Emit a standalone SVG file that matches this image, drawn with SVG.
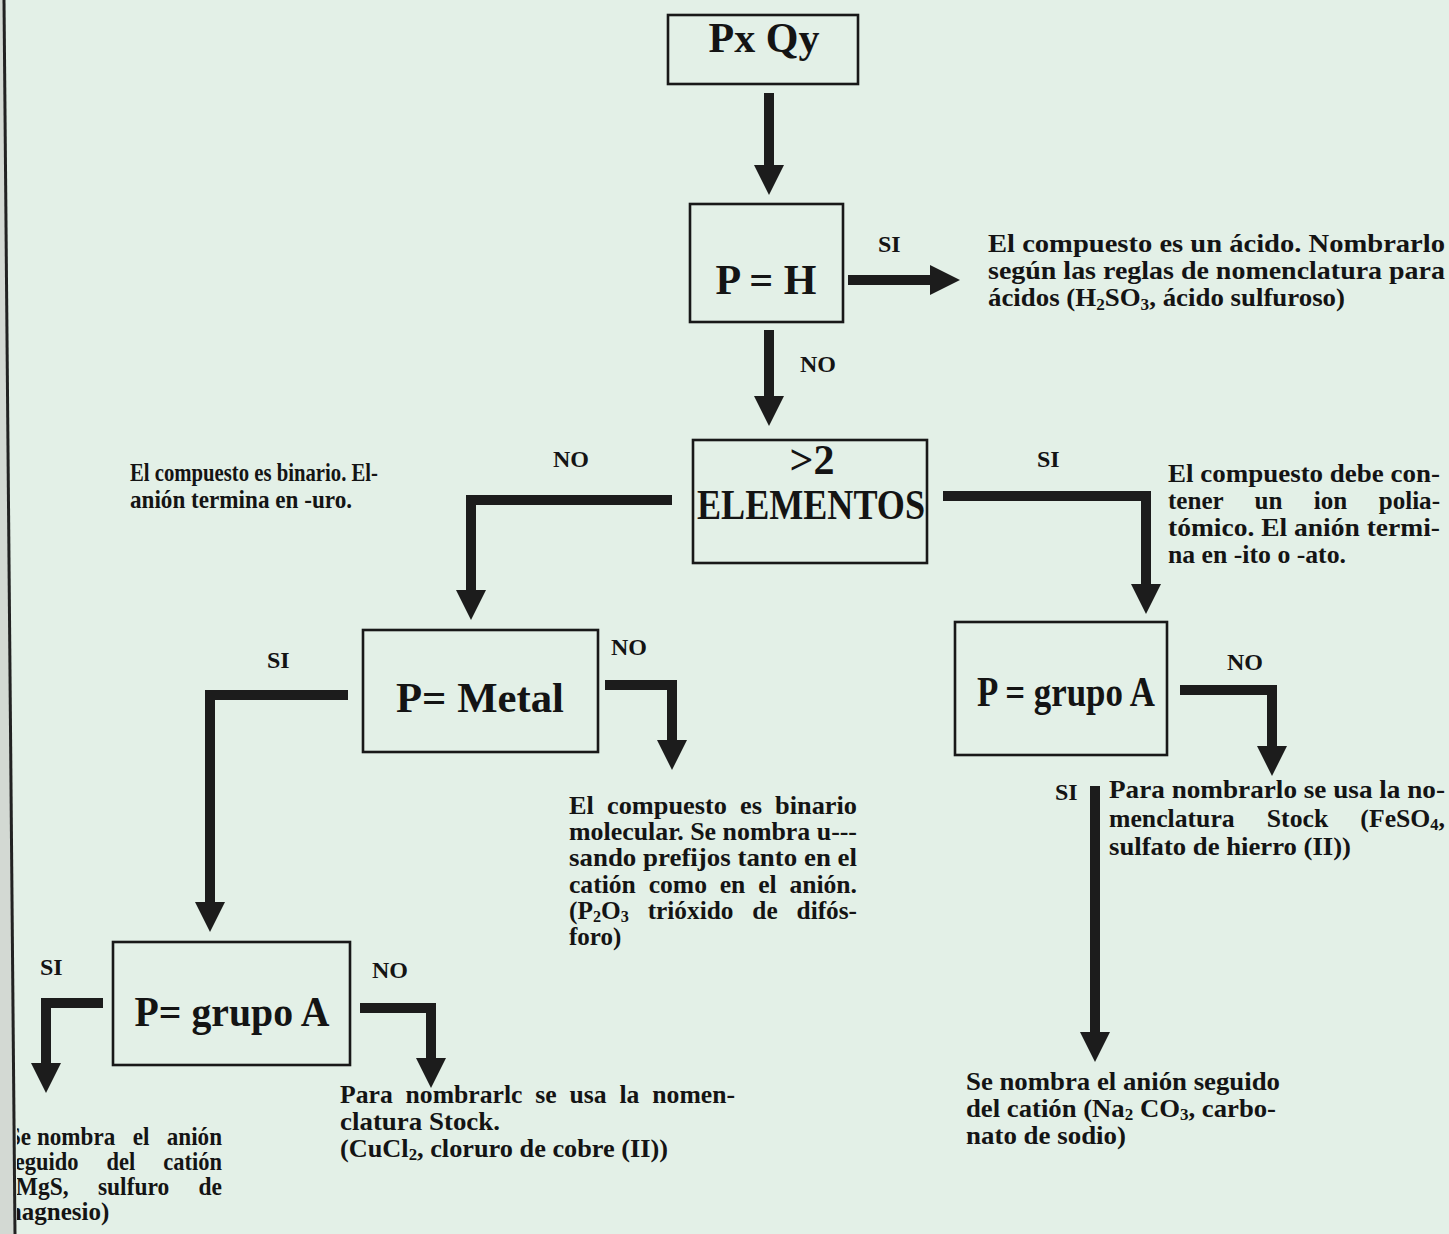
<svg xmlns="http://www.w3.org/2000/svg" width="1449" height="1234" viewBox="0 0 1449 1234">
<style>
.page{fill:#e3f0e7}
.box{fill:none;stroke:#181818;stroke-width:2.6}
.big{font-family:"Liberation Serif","Times New Roman",serif;font-weight:bold;font-size:42px;fill:#141414;text-anchor:middle}
.lbl{font-family:"Liberation Serif","Times New Roman",serif;font-weight:bold;font-size:24px;fill:#141414}
.txt{font-family:"Liberation Serif","Times New Roman",serif;font-weight:bold;font-size:25px;fill:#141414}
.conn{fill:none;stroke:#1c1c1c;stroke-width:10;stroke-linejoin:miter;stroke-linecap:butt;marker-end:url(#ah)}
.sub{font-size:16px}
</style>
<defs>
<marker id="ah" markerUnits="userSpaceOnUse" markerWidth="30" markerHeight="30" viewBox="0 0 30 30" refX="0" refY="15" orient="auto">
<path d="M0,0 L30,15 L0,30 Z" fill="#1c1c1c"/>
</marker>
<clipPath id="pg"><rect x="17" y="0" width="1432" height="1234"/></clipPath>
</defs>
<rect class="page" x="0" y="0" width="1449" height="1234"/>
<polygon points="0,0 3,0 14,1234 0,1234" fill="#d3d9d3"/>
<line x1="4" y1="0" x2="15" y2="1234" stroke="#222" stroke-width="3"/>

<g id="connectors">
<path class="conn" d="M769,93 V165"/>
<path class="conn" d="M848,280 H930"/>
<path class="conn" d="M769,330 V396"/>
<path class="conn" d="M672,500 H471 V590"/>
<path class="conn" d="M943,496 H1146 V584"/>
<path class="conn" d="M348,695 H210 V902"/>
<path class="conn" d="M605,685 H672 V740"/>
<path class="conn" d="M1180,690 H1272 V746"/>
<path class="conn" d="M1095,786 V1032"/>
<path class="conn" d="M103,1003 H46 V1063"/>
<path class="conn" d="M360,1008 H431 V1058"/>
</g>

<g id="labels">
<text class="lbl" x="878" y="252">SI</text>
<text class="lbl" x="800" y="372">NO</text>
<text class="lbl" x="553" y="467">NO</text>
<text class="lbl" x="1037" y="467">SI</text>
<text class="lbl" x="267" y="668">SI</text>
<text class="lbl" x="611" y="655">NO</text>
<text class="lbl" x="1227" y="670">NO</text>
<text class="lbl" x="1055" y="800">SI</text>
<text class="lbl" x="40" y="975">SI</text>
<text class="lbl" x="372" y="978">NO</text>
</g>

<g id="node-pxqy">
<rect class="box" x="668" y="15" width="190" height="69"/>
<text class="big" x="764" y="52">Px Qy</text>
</g>

<g id="node-ph">
<rect class="box" x="690" y="204" width="153" height="118"/>
<text class="big" x="766" y="294">P = H</text>
</g>

<g id="node-elementos">
<rect class="box" x="693" y="440" width="234" height="123"/>
<text class="big" x="812" y="474">&gt;2</text>
<text class="big" x="811" y="519" textLength="228" lengthAdjust="spacingAndGlyphs">ELEMENTOS</text>
</g>

<g id="node-pmetal">
<rect class="box" x="363" y="630" width="235" height="122"/>
<text class="big" x="480" y="712" textLength="168" lengthAdjust="spacingAndGlyphs">P= Metal</text>
</g>

<g id="node-pgrupoA-right">
<rect class="box" x="955" y="622" width="212" height="133"/>
<text class="big" x="1066" y="706" textLength="178" lengthAdjust="spacingAndGlyphs">P = grupo A</text>
</g>

<g id="node-pgrupoA-left">
<rect class="box" x="113" y="942" width="237" height="123"/>
<text class="big" x="232" y="1026" textLength="195" lengthAdjust="spacingAndGlyphs">P= grupo A</text>
</g>

<g id="out-acido">
<text class="txt" x="988" y="252" textLength="457" lengthAdjust="spacingAndGlyphs">El compuesto es un ácido. Nombrarlo</text>
<text class="txt" x="988" y="279" textLength="457" lengthAdjust="spacingAndGlyphs">según las reglas de nomenclatura para</text>
<text class="txt" x="988" y="306" textLength="357" lengthAdjust="spacingAndGlyphs">ácidos (H<tspan class="sub" dy="4">2</tspan><tspan dy="-4">SO</tspan><tspan class="sub" dy="4">3</tspan><tspan dy="-4">, ácido sulfuroso)</tspan></text>
</g>

<g id="out-binario">
<text class="txt" x="130" y="481" textLength="248" lengthAdjust="spacingAndGlyphs">El compuesto es binario. El-</text>
<text class="txt" x="130" y="508" textLength="222" lengthAdjust="spacingAndGlyphs">anión termina en -uro.</text>
</g>

<g id="out-poliatomico">
<text class="txt" x="1168" y="482" textLength="272" lengthAdjust="spacingAndGlyphs">El compuesto debe con-</text>
<text class="txt" x="1168" y="509" textLength="272" lengthAdjust="spacingAndGlyphs" xml:space="preserve">tener     un     ion     polia-</text>
<text class="txt" x="1168" y="536" textLength="272" lengthAdjust="spacingAndGlyphs">tómico. El anión termi-</text>
<text class="txt" x="1168" y="563" textLength="178" lengthAdjust="spacingAndGlyphs">na en -ito o -ato.</text>
</g>

<g id="out-molecular">
<text class="txt" x="569" y="814" textLength="288" lengthAdjust="spacingAndGlyphs" xml:space="preserve">El  compuesto  es  binario</text>
<text class="txt" x="569" y="840" textLength="288" lengthAdjust="spacingAndGlyphs">molecular. Se nombra u---</text>
<text class="txt" x="569" y="866" textLength="288" lengthAdjust="spacingAndGlyphs">sando prefijos tanto en el</text>
<text class="txt" x="569" y="893" textLength="288" lengthAdjust="spacingAndGlyphs" xml:space="preserve">catión  como  en  el  anión.</text>
<text class="txt" x="569" y="919" textLength="288" lengthAdjust="spacingAndGlyphs" xml:space="preserve">(P<tspan class="sub" dy="3">2</tspan><tspan dy="-3">O</tspan><tspan class="sub" dy="3">3</tspan><tspan dy="-3">   trióxido   de   difós-</tspan></text>
<text class="txt" x="569" y="945">foro)</text>
</g>

<g id="out-stock-fe">
<text class="txt" x="1109" y="798" textLength="336" lengthAdjust="spacingAndGlyphs">Para nombrarlo se usa la no-</text>
<text class="txt" x="1109" y="827" textLength="336" lengthAdjust="spacingAndGlyphs" xml:space="preserve">menclatura     Stock     (FeSO<tspan class="sub" dy="3">4</tspan><tspan dy="-3">,</tspan></text>
<text class="txt" x="1109" y="855" textLength="242" lengthAdjust="spacingAndGlyphs">sulfato de hierro (II))</text>
</g>

<g id="out-anion-na">
<text class="txt" x="966" y="1090" textLength="314" lengthAdjust="spacingAndGlyphs">Se nombra el anión seguido</text>
<text class="txt" x="966" y="1117" textLength="310" lengthAdjust="spacingAndGlyphs">del catión (Na<tspan class="sub" dy="3">2</tspan><tspan dy="-3"> CO</tspan><tspan class="sub" dy="3">3</tspan><tspan dy="-3">, carbo-</tspan></text>
<text class="txt" x="966" y="1144" textLength="160" lengthAdjust="spacingAndGlyphs">nato de sodio)</text>
</g>

<g id="out-stock-cu">
<text class="txt" x="340" y="1103" textLength="395" lengthAdjust="spacingAndGlyphs" xml:space="preserve">Para  nombrarlc  se  usa  la  nomen-</text>
<text class="txt" x="340" y="1130" textLength="160" lengthAdjust="spacingAndGlyphs">clatura Stock.</text>
<text class="txt" x="340" y="1157" textLength="328" lengthAdjust="spacingAndGlyphs">(CuCl<tspan class="sub" dy="3">2</tspan><tspan dy="-3">, cloruro de cobre (II))</tspan></text>
</g>

<g id="out-anion-mg" clip-path="url(#pg)">
<text class="txt" x="222" y="1145" text-anchor="end" textLength="214" lengthAdjust="spacingAndGlyphs" xml:space="preserve">Se nombra   el   anión</text>
<text class="txt" x="222" y="1170" text-anchor="end" textLength="216" lengthAdjust="spacingAndGlyphs" xml:space="preserve">seguido     del     catión</text>
<text class="txt" x="222" y="1195" text-anchor="end" textLength="214" lengthAdjust="spacingAndGlyphs" xml:space="preserve">(MgS,     sulfuro     de</text>
<text class="txt" x="1" y="1220">magnesio)</text>
</g>
</svg>
